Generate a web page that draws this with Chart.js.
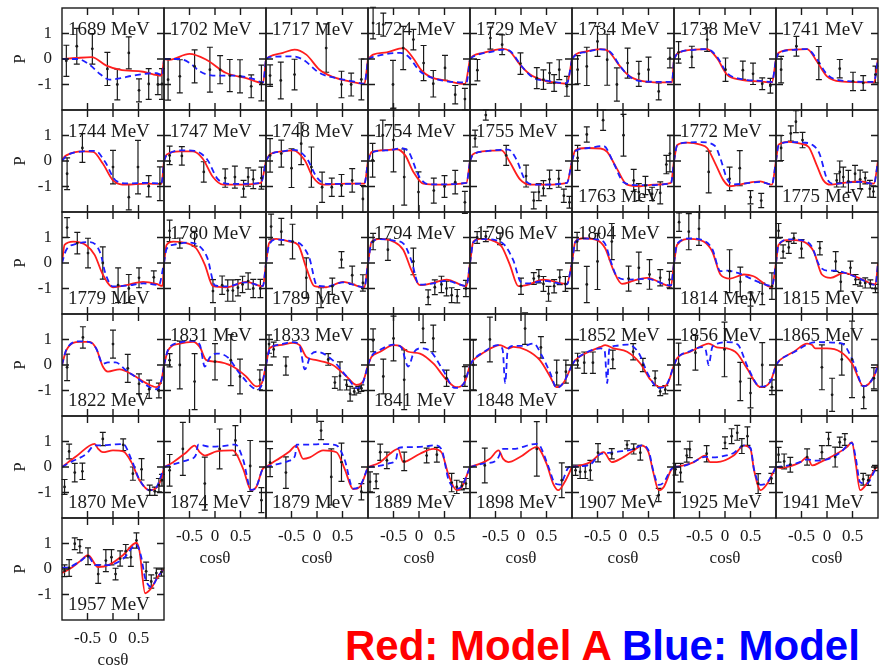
<!DOCTYPE html>
<html lang="en">
<head>
<meta charset="UTF-8">
<title>Polarization P vs cos theta</title>
<script src="https://cdn.jsdelivr.net/npm/chart.js"></script>
<style>
  html, body { margin: 0; padding: 0; background: #fff; }
  body { position: relative; width: 883px; height: 669px; overflow: hidden; }
  canvas { position: absolute; }
  .legend {
    position: absolute; left: 345px; top: 625px;
    font: bold 42px "Liberation Sans", Arial, sans-serif;
    line-height: 42px; white-space: nowrap;
  }
</style>
</head>
<body>
<div id="grid"></div>
<div class="legend"><span style="color:#ff0000">Red: Model A</span> <span style="color:#0000ff">Blue: Model</span></div>

<script>
// beam energies, one panel each (8 per row)
const energies = [
  1689, 1702, 1717, 1724, 1729, 1734, 1738, 1741,
  1744, 1747, 1748, 1754, 1755, 1763, 1772, 1775,
  1779, 1780, 1789, 1794, 1796, 1804, 1814, 1815,
  1822, 1831, 1833, 1841, 1848, 1852, 1856, 1865,
  1870, 1874, 1879, 1889, 1898, 1907, 1925, 1941,
  1957
];

// energy label at the bottom of the panel instead of the top
const labelAtBottom = [
  0, 0, 0, 0, 0, 0, 0, 0,
  0, 0, 0, 0, 0, 1, 0, 1,
  1, 0, 1, 0, 0, 0, 1, 1,
  1, 0, 0, 1, 1, 0, 0, 0,
  1, 1, 1, 1, 1, 1, 1, 1,
  1
];

const xTicks = [-0.5, 0, 0.5];
const xTickLabels = ['-0.5', '0', '0.5'];
const yTicks = [-1, 0, 1];
const yTickLabels = ['-1', '0', '1'];

// model A curves (red), [cos, P]
const modelA = [
  [[-1,0],[-0.72,0.04],[-0.42,0.07],[-0.13,-0.26],[0.13,-0.42],[0.59,-0.5],[0.95,-0.65],[1,0]],
  [[-1,0],[-0.9,-0.03],[-0.5,0.2],[-0.17,-0.03],[0.22,-0.55],[0.61,-0.75],[0.94,-0.94],[1,0]],
  [[-1,0],[-0.93,0.1],[-0.67,0.24],[-0.44,0.37],[-0.21,0.17],[0.05,-0.42],[0.31,-0.7],[0.64,-0.88],[0.93,-0.97],[1,0]],
  [[-1,0],[-0.9,0.17],[-0.63,0.26],[-0.31,0.43],[-0.12,0.05],[0.05,-0.45],[0.22,-0.7],[0.54,-0.85],[0.9,-0.98],[1,0]],
  [[-1,0],[-0.935,0.13],[-0.74,0.24],[-0.54,0.34],[-0.35,0.4],[-0.22,0.3],[-0.02,-0.22],[0.18,-0.61],[0.44,-0.84],[0.7,-0.94],[0.9,-0.97],[1,0]],
  [[-1,0],[-0.935,0.17],[-0.71,0.3],[-0.44,0.39],[-0.28,0.3],[-0.085,-0.22],[0.11,-0.65],[0.34,-0.85],[0.73,-0.92],[0.96,-0.92],[1,0]],
  [[-1,0],[-0.94,0.21],[-0.61,0.37],[-0.35,0.39],[-0.16,0.04],[0.04,-0.61],[0.3,-0.81],[0.69,-0.88],[0.92,-0.92],[1,0]],
  [[-1,0],[-0.95,0.24],[-0.65,0.37],[-0.39,0.39],[-0.2,-0.09],[0,-0.68],[0.26,-0.88],[0.92,-0.92],[1,0]],

  [[-1,0],[-0.97,0.12],[-0.915,0.22],[-0.59,0.38],[-0.39,0.36],[-0.2,-0.1],[0,-0.76],[0.26,-0.93],[0.65,-0.89],[0.95,-0.9],[1,0]],
  [[-1,0],[-0.95,0.25],[-0.69,0.38],[-0.43,0.38],[-0.24,0.09],[-0.04,-0.63],[0.16,-0.93],[0.48,-0.93],[0.9,-0.86],[1,0]],
  [[-1,0],[-0.93,0.25],[-0.67,0.38],[-0.47,0.42],[-0.24,0.03],[-0.08,-0.63],[0.12,-0.93],[0.58,-0.89],[0.93,-0.89],[1,0]],
  [[-1,0],[-0.93,0.35],[-0.7,0.42],[-0.44,0.46],[-0.27,0.22],[-0.11,-0.43],[0.085,-0.89],[0.41,-0.93],[0.93,-0.86],[1,0]],
  [[-1,0],[-0.95,0.25],[-0.8,0.36],[-0.54,0.41],[-0.38,0.42],[-0.22,-0.04],[-0.02,-0.72],[0.18,-0.93],[0.5,-0.93],[0.9,-0.86],[1,0]],
  [[-1,0],[-0.935,0.42],[-0.71,0.51],[-0.44,0.49],[-0.31,0.36],[-0.12,-0.3],[0.08,-0.93],[0.34,-0.99],[0.6,-0.93],[0.94,-0.86],[1,0]],
  [[-1,0],[-0.94,0.62],[-0.75,0.72],[-0.48,0.64],[-0.35,0.51],[-0.19,-0.1],[-0.03,-0.76],[0.1,-0.99],[0.37,-0.89],[0.69,-0.8],[0.92,-0.93],[1,0]],
  [[-1,0],[-0.95,0.64],[-0.75,0.75],[-0.52,0.68],[-0.36,0.55],[-0.2,-0.17],[-0.07,-0.76],[0.07,-0.93],[0.33,-0.86],[0.65,-0.8],[0.92,-0.89],[1,0]],

  [[-1,0],[-0.95,0.71],[-0.78,0.84],[-0.52,0.69],[-0.36,0.32],[-0.2,-0.45],[0,-0.95],[0.26,-0.87],[0.59,-0.74],[0.85,-0.82],[0.97,-0.9],[1,0]],
  [[-1,0],[-0.95,0.71],[-0.82,0.84],[-0.56,0.78],[-0.37,0.58],[-0.2,-0.06],[-0.04,-0.91],[0.22,-0.95],[0.61,-0.74],[0.94,-0.91],[1,0]],
  [[-1,0],[-0.94,0.78],[-0.8,0.95],[-0.54,0.84],[-0.37,0.71],[-0.21,-0.19],[-0.05,-0.91],[0.18,-0.95],[0.51,-0.74],[0.93,-0.95],[1,0]],
  [[-1,0],[-0.93,0.84],[-0.76,0.95],[-0.5,0.84],[-0.31,0.52],[-0.14,-0.32],[0.02,-0.87],[0.28,-0.78],[0.54,-0.65],[0.93,-0.91],[1,0]],
  [[-1,0],[-0.935,0.84],[-0.8,0.95],[-0.54,0.87],[-0.38,0.65],[-0.22,-0.06],[-0.05,-0.91],[0.11,-0.87],[0.44,-0.65],[0.9,-0.82],[1,0]],
  [[-1,0],[-0.935,0.84],[-0.77,0.97],[-0.51,0.9],[-0.35,0.58],[-0.18,-0.32],[-0.02,-0.82],[0.21,-0.69],[0.47,-0.58],[0.94,-0.91],[1,0]],
  [[-1,0],[-0.94,0.71],[-0.68,0.95],[-0.42,0.84],[-0.25,0.45],[-0.09,-0.45],[0.1,-0.61],[0.37,-0.45],[0.56,-0.52],[0.92,-0.95],[1,0]],
  [[-1,0],[-0.95,0.71],[-0.72,0.91],[-0.46,0.84],[-0.26,0.45],[-0.1,-0.45],[0.07,-0.58],[0.33,-0.39],[0.65,-0.61],[0.95,-0.84],[1,0]],

  [[-1,0],[-0.915,0.58],[-0.65,0.91],[-0.46,0.91],[-0.33,0.65],[-0.2,-0.06],[-0.1,-0.26],[0.13,-0.17],[0.39,-0.39],[0.65,-0.71],[0.85,-0.87],[0.95,-0.6],[1,0]],
  [[-1,0],[-0.92,0.58],[-0.69,0.84],[-0.43,0.91],[-0.3,0.71],[-0.17,0.19],[0.03,0.13],[0.35,-0.06],[0.61,-0.45],[0.81,-0.84],[0.92,-0.7],[1,0]],
  [[-1,0],[-0.93,0.65],[-0.73,0.78],[-0.47,0.87],[-0.34,0.78],[-0.21,0.32],[-0.01,0.19],[0.31,0],[0.58,-0.45],[0.77,-0.78],[0.9,-0.65],[1,0]],
  [[-1,0],[-0.93,0.32],[-0.76,0.52],[-0.5,0.78],[-0.37,0.74],[-0.21,0.52],[0.02,0.45],[0.28,0.06],[0.54,-0.58],[0.73,-0.87],[0.9,-0.65],[1,0]],
  [[-1,0],[-0.935,0.19],[-0.74,0.48],[-0.41,0.78],[-0.25,0.65],[-0.15,0.71],[0.11,0.58],[0.37,0.19],[0.57,-0.45],[0.7,-0.87],[0.83,-0.71],[1,0]],
  [[-1,0],[-0.935,0.19],[-0.71,0.48],[-0.44,0.71],[-0.35,0.78],[-0.18,0.65],[0.08,0.52],[0.34,0.06],[0.54,-0.58],[0.73,-0.87],[0.86,-0.78],[1,0]],
  [[-1,0],[-0.94,0.26],[-0.68,0.52],[-0.42,0.78],[-0.32,0.84],[-0.16,0.69],[0.04,0.65],[0.24,0.45],[0.43,-0.13],[0.69,-0.87],[0.89,-0.65],[1,0]],
  [[-1,0],[-0.92,0.2],[-0.65,0.52],[-0.39,0.84],[-0.29,0.78],[-0.23,0.65],[0,0.65],[0.26,0.52],[0.49,0.06],[0.72,-0.84],[0.92,-0.45],[1,0]],

  [[-1,0],[-0.72,0.42],[-0.36,0.91],[-0.29,0.71],[-0.2,0.58],[0,0.65],[0.2,0.61],[0.36,0.19],[0.52,-0.52],[0.72,-0.91],[0.85,-0.82],[0.95,-0.45],[1,0]],
  [[-1,0],[-0.82,0.19],[-0.56,0.58],[-0.4,0.84],[-0.3,0.58],[-0.2,0.45],[0.03,0.61],[0.35,0.65],[0.55,-0.06],[0.71,-0.91],[0.81,-0.78],[0.94,-0.06],[1,0]],
  [[-1,0],[-0.8,0.26],[-0.54,0.61],[-0.41,0.84],[-0.27,0.32],[-0.14,0.38],[0.12,0.65],[0.38,0.58],[0.54,-0.06],[0.71,-0.87],[0.84,-0.78],[1,0]],
  [[-1,0],[-0.76,0.19],[-0.57,0.52],[-0.41,0.71],[-0.31,0.19],[-0.21,0.26],[0.02,0.52],[0.28,0.71],[0.44,0.58],[0.58,-0.32],[0.74,-0.91],[0.84,-0.78],[1,0]],
  [[-1,0],[-0.8,0.13],[-0.61,0.32],[-0.44,0.65],[-0.35,0.32],[-0.25,0.19],[-0.02,0.39],[0.31,0.78],[0.5,0.13],[0.63,-0.65],[0.73,-0.91],[0.86,-0.58],[1,0]],
  [[-1,0],[-0.84,0.06],[-0.64,0.19],[-0.38,0.58],[-0.22,0.19],[-0.05,0.32],[0.21,0.65],[0.37,0.84],[0.5,0.58],[0.6,-0.26],[0.7,-0.91],[0.8,-0.78],[0.94,-0.13],[1,0]],
  [[-1,0],[-0.81,0.06],[-0.61,0.19],[-0.39,0.45],[-0.29,0.19],[-0.16,0.19],[0.17,0.45],[0.37,0.84],[0.5,0.71],[0.57,-0.13],[0.7,-0.91],[0.83,-0.65],[0.95,-0.19],[1,0]],
  [[-1,0],[-0.9,-0.04],[-0.78,0],[-0.52,0.19],[-0.39,0.39],[-0.29,0.06],[-0.13,0.19],[0.13,0.45],[0.39,0.78],[0.49,0.97],[0.56,0.19],[0.65,-0.91],[0.78,-0.65],[0.95,-0.06],[1,0]],

  [[-1,-0.15],[-0.85,0],[-0.65,0.3],[-0.49,0.54],[-0.29,0.07],[-0.07,0.17],[0.2,0.55],[0.46,1.03],[0.52,0.7],[0.63,-0.95],[0.75,-0.75],[0.88,-0.3],[1,0]]
];

// second model curves (blue, dashed), [cos, P]
const modelB = [
  [[-1,0],[-0.7,0],[-0.46,-0.22],[-0.25,-0.6],[-0.07,-0.81],[0.15,-0.75],[0.4,-0.65],[0.85,-0.55],[0.97,-0.65],[1,0]],
  [[-1,0],[-0.69,0],[-0.5,-0.15],[-0.3,-0.48],[-0.04,-0.65],[0.35,-0.65],[0.75,-0.78],[0.94,-0.92],[1,0]],
  [[-1,0],[-0.93,0.08],[-0.47,0.1],[-0.27,-0.03],[0.05,-0.55],[0.38,-0.75],[0.71,-0.88],[0.93,-0.97],[1,0]],
  [[-1,0],[-0.9,0.08],[-0.37,0.24],[-0.21,0.1],[0.02,-0.48],[0.28,-0.75],[0.93,-0.92],[1,0]],
  [[-1,0],[-0.935,0.1],[-0.54,0.3],[-0.35,0.37],[-0.22,0.32],[0.02,-0.3],[0.25,-0.75],[0.5,-0.85],[0.9,-0.95],[1,0]],
  [[-1,0],[-0.935,0.15],[-0.71,0.28],[-0.44,0.38],[-0.25,0.28],[-0.05,-0.3],[0.15,-0.72],[0.4,-0.88],[0.96,-0.9],[1,0]],
  [[-1,0],[-0.94,0.2],[-0.61,0.36],[-0.35,0.39],[-0.16,0.1],[0.04,-0.55],[0.3,-0.78],[0.69,-0.86],[0.92,-0.9],[1,0]],
  [[-1,0],[-0.95,0.22],[-0.65,0.36],[-0.39,0.39],[-0.2,0],[0,-0.6],[0.26,-0.84],[0.92,-0.9],[1,0]],

  [[-1,0],[-0.915,0.2],[-0.59,0.38],[-0.35,0.4],[-0.15,-0.05],[0.05,-0.76],[0.3,-0.88],[0.65,-0.86],[0.95,-0.88],[1,0]],
  [[-1,0],[-0.95,0.22],[-0.6,0.42],[-0.4,0.4],[-0.15,0.05],[0.05,-0.7],[0.3,-0.9],[0.9,-0.86],[1,0]],
  [[-1,0],[-0.93,0.22],[-0.67,0.38],[-0.45,0.44],[-0.2,0.1],[0,-0.65],[0.2,-0.9],[0.93,-0.88],[1,0]],
  [[-1,0],[-0.93,0.33],[-0.6,0.42],[-0.35,0.5],[-0.2,0.35],[0,-0.6],[0.2,-0.92],[0.93,-0.86],[1,0]],
  [[-1,0],[-0.95,0.22],[-0.7,0.38],[-0.4,0.44],[-0.25,0.45],[-0.1,0.1],[0.1,-0.8],[0.3,-0.93],[0.9,-0.86],[1,0]],
  [[-1,0],[-0.935,0.38],[-0.71,0.5],[-0.38,0.59],[-0.18,-0.1],[0.01,-0.83],[0.3,-0.95],[0.94,-0.88],[1,0]],
  [[-1,0],[-0.94,0.6],[-0.75,0.72],[-0.48,0.74],[-0.2,0.6],[-0.09,0.1],[0.04,-0.7],[0.15,-0.92],[0.4,-0.88],[0.69,-0.82],[0.92,-0.92],[1,0]],
  [[-1,0],[-0.95,0.6],[-0.75,0.74],[-0.45,0.72],[-0.3,0.65],[-0.15,0.3],[0,-0.7],[0.15,-0.9],[0.33,-0.86],[0.65,-0.82],[0.92,-0.9],[1,0]],

  [[-1,0],[-0.92,0.5],[-0.72,0.75],[-0.45,0.82],[-0.25,0.4],[-0.15,-0.4],[0,-0.92],[0.3,-0.88],[0.6,-0.8],[0.9,-0.86],[1,0]],
  [[-1,0],[-0.95,0.55],[-0.8,0.72],[-0.5,0.8],[-0.3,0.65],[-0.15,0.2],[0,-0.88],[0.22,-0.92],[0.61,-0.76],[0.94,-0.9],[1,0]],
  [[-1,0],[-0.94,0.7],[-0.8,0.92],[-0.5,0.85],[-0.3,0.7],[-0.15,0.2],[0,-0.88],[0.2,-0.92],[0.51,-0.76],[0.93,-0.95],[1,0]],
  [[-1,0],[-0.93,0.8],[-0.76,0.94],[-0.5,0.88],[-0.3,0.75],[-0.15,0.1],[0,-0.85],[0.28,-0.8],[0.54,-0.7],[0.93,-0.9],[1,0]],
  [[-1,0],[-0.935,0.8],[-0.8,0.94],[-0.5,0.9],[-0.32,0.7],[-0.15,0.1],[0,-0.75],[0.15,-0.8],[0.44,-0.7],[0.9,-0.84],[1,0]],
  [[-1,0],[-0.935,0.82],[-0.77,0.96],[-0.5,0.92],[-0.35,0.75],[-0.25,0.13],[-0.12,-0.52],[0.08,-0.65],[0.47,-0.62],[0.94,-0.88],[1,0]],
  [[-1,0],[-0.94,0.75],[-0.68,0.96],[-0.42,0.88],[-0.25,0.55],[-0.09,-0.32],[0.05,-0.3],[0.25,-0.39],[0.7,-0.78],[0.92,-0.9],[1,0]],
  [[-1,0],[-0.95,0.72],[-0.72,0.93],[-0.46,0.88],[-0.3,0.65],[-0.15,-0.1],[0,-0.3],[0.15,-0.3],[0.4,-0.42],[0.65,-0.62],[0.95,-0.86],[1,0]],

  [[-1,0],[-0.915,0.6],[-0.65,0.93],[-0.46,0.9],[-0.33,0.65],[-0.2,0.05],[-0.1,0.1],[0.05,0.1],[0.25,-0.2],[0.5,-0.55],[0.7,-0.85],[0.85,-0.95],[0.95,-0.6],[1,0]],
  [[-1,0],[-0.92,0.6],[-0.69,0.88],[-0.45,0.95],[-0.3,0.8],[-0.2,-0.06],[-0.1,0.3],[0.03,0.45],[0.25,0.3],[0.48,-0.32],[0.75,-0.9],[0.85,-0.95],[0.93,-0.7],[1,0]],
  [[-1,0],[-0.93,0.6],[-0.73,0.8],[-0.47,0.9],[-0.34,0.75],[-0.24,-0.17],[-0.12,0.4],[0,0.52],[0.3,0.2],[0.58,-0.45],[0.8,-0.92],[0.9,-0.7],[1,0]],
  [[-1,0],[-0.93,0.35],[-0.76,0.6],[-0.5,0.8],[-0.35,0.7],[-0.21,-0.06],[-0.1,0.5],[0.02,0.65],[0.2,0.58],[0.47,-0.2],[0.7,-0.9],[0.9,-0.65],[1,0]],
  [[-1,0],[-0.935,0.2],[-0.74,0.5],[-0.45,0.78],[-0.36,0.6],[-0.31,-0.71],[-0.26,0.6],[-0.15,0.75],[0.05,0.75],[0.25,0.84],[0.4,0.4],[0.57,-0.3],[0.7,-0.9],[0.83,-0.7],[1,0]],
  [[-1,0],[-0.935,0.19],[-0.71,0.5],[-0.44,0.65],[-0.36,0.55],[-0.31,-0.71],[-0.27,0.6],[-0.15,0.75],[0.08,0.8],[0.3,0.5],[0.5,-0.4],[0.7,-0.9],[0.86,-0.75],[1,0]],
  [[-1,0],[-0.94,0.26],[-0.68,0.55],[-0.45,0.7],[-0.38,0.6],[-0.32,0],[-0.25,0.7],[-0.15,0.84],[0.04,0.9],[0.25,0.8],[0.45,-0.1],[0.69,-0.85],[0.89,-0.65],[1,0]],
  [[-1,0],[-0.92,0.2],[-0.65,0.5],[-0.39,0.8],[-0.29,0.88],[-0.15,0.9],[0.1,0.88],[0.3,0.84],[0.5,0.2],[0.72,-0.84],[0.92,-0.45],[1,0]],

  [[-1,0],[-0.82,0.2],[-0.52,0.52],[-0.36,0.85],[-0.2,0.85],[0,0.88],[0.2,0.9],[0.36,0.3],[0.52,-0.5],[0.72,-0.91],[0.85,-0.8],[1,0]],
  [[-1,0],[-0.82,0.1],[-0.5,0.3],[-0.38,0.45],[-0.33,0.88],[-0.1,0.8],[0.15,0.82],[0.4,0.88],[0.55,0.3],[0.71,-0.9],[0.81,-0.78],[0.94,-0.06],[1,0]],
  [[-1,0],[-0.8,0.1],[-0.54,0.25],[-0.43,0.45],[-0.4,0.88],[-0.15,0.88],[0.12,0.9],[0.38,0.85],[0.54,0.3],[0.71,-0.85],[0.84,-0.75],[1,0]],
  [[-1,0],[-0.76,0.05],[-0.57,0.15],[-0.45,0.3],[-0.4,0.75],[-0.2,0.78],[0.1,0.8],[0.3,0.85],[0.44,0.7],[0.58,-0.5],[0.74,-0.85],[0.84,-0.75],[1,0]],
  [[-1,0],[-0.74,0.13],[-0.48,0.26],[-0.35,0.71],[-0.16,0.71],[0.31,0.91],[0.37,0.84],[0.54,0],[0.67,-0.65],[0.76,-0.69],[0.95,0],[1,0]],
  [[-1,0],[-0.84,0.03],[-0.64,0.1],[-0.45,0.5],[-0.3,0.55],[-0.1,0.6],[0.2,0.7],[0.37,0.85],[0.5,0.65],[0.6,-0.2],[0.7,-0.7],[0.8,-0.6],[0.94,-0.1],[1,0]],
  [[-1,0],[-0.81,0.04],[-0.61,0.2],[-0.39,0.4],[-0.25,0.38],[-0.1,0.4],[0.17,0.55],[0.37,0.85],[0.5,0.75],[0.57,-0.1],[0.7,-0.7],[0.83,-0.6],[0.95,-0.2],[1,0]],
  [[-1,0],[-0.78,0.05],[-0.52,0.2],[-0.39,0.3],[-0.25,0.25],[0,0.3],[0.25,0.55],[0.49,0.95],[0.56,0.4],[0.65,-0.6],[0.78,-0.65],[0.95,-0.1],[1,0]],

  [[-1,0.05],[-0.85,0.08],[-0.65,0.3],[-0.49,0.5],[-0.35,0.15],[-0.1,0.15],[0.2,0.4],[0.46,0.95],[0.55,0.5],[0.63,-0.35],[0.75,-0.7],[0.88,-0.3],[1,0]]
];

// measured points, [cos, P, error]
const measured = [
  [[-0.915,-0.07,0.61],[-0.71,0.5,0.7],[-0.405,0.4,0.6],[-0.11,-0.39,0.65],[0.085,-1.0,0.6],[0.31,0.24,0.63],[0.51,-1.23,0.45],[0.7,-0.98,0.6],[0.88,-1.0,0.4],[0.96,-0.98,0.6]],
  [[-0.92,-0.81,0.8],[-0.69,-0.68,0.65],[-0.4,-0.29,0.65],[-0.1,-0.42,0.88],[0.1,-0.42,0.55],[0.29,-0.65,0.63],[0.49,-0.68,0.65],[0.71,-1.07,0.45],[0.91,-0.94,0.7]],
  [[-0.92,-0.65,0.42],[-0.71,-0.84,0.72],[-0.44,-0.61,0.6],[0.18,0.43,0.95],[0.48,-1.0,0.52],[0.67,-1.0,0.45],[0.87,-0.8,0.8]],
  [[-0.9,1.41,0.62],[-0.7,1.35,0.45],[-0.51,-1.0,0.95],[-0.31,0.43,0.85],[-0.11,0.76,0.4],[0.09,-0.16,0.69],[0.28,-0.97,0.52],[0.51,-0.35,0.49],[0.71,-1.4,0.36],[0.9,-1.57,0.42]],
  [[-0.855,-0.44,0.42],[-0.6,0.82,0.43],[-0.37,0.56,0.39],[-0.01,-0.18,0.42],[0.31,-0.75,0.41],[0.44,-0.81,0.38],[0.56,-0.55,0.4],[0.65,-0.94,0.33],[0.75,-0.42,0.39],[0.9,-1.07,0.39]],
  [[-0.89,-0.42,0.55],[-0.71,-0.29,0.75],[-0.5,0.69,0.59],[-0.31,-0.03,1.0],[-0.12,-1.0,0.65],[0.09,-0.16,0.59],[0.31,-0.58,0.49],[0.5,-0.42,0.49],[0.7,-1.27,0.33],[0.92,0.04,0.39]],
  [[-0.91,0.26,0.42],[-0.65,0.08,0.42],[-0.35,0.76,0.46],[0.01,-0.42,0.46],[0.35,-0.44,0.36],[0.55,-0.58,0.42],[0.73,-0.97,0.23],[0.89,-1.05,0.29]],
  [[-0.9,-0.42,0.52],[-0.6,0.5,0.39],[-0.16,-0.16,0.65],[0.25,-0.38,0.36],[0.51,-0.88,0.36],[0.71,-0.94,0.29],[0.95,-0.61,0.33]],

  [[-0.9,-0.5,0.62],[-0.6,0.51,0.56],[0,-0.24,0.66],[0.31,-1.42,0.5],[0.49,-0.24,1.05],[0.7,-0.99,0.42],[0.92,-0.89,0.66]],
  [[-0.89,0.22,0.36],[-0.65,0.2,0.36],[-0.22,-0.43,0.4],[0.2,-0.67,0.36],[0.39,-0.63,0.43],[0.56,-1.09,0.33],[0.65,-0.63,0.36],[0.75,-0.72,0.36],[0.91,-0.67,0.43]],
  [[-0.92,0.22,0.66],[-0.7,0.29,0.53],[-0.5,-0.28,0.76],[-0.31,0.68,0.82],[-0.11,-0.24,0.79],[0.1,-1.03,0.59],[0.29,-1.03,0.36],[0.48,-0.96,0.43],[0.69,-0.76,0.46],[0.9,-1.49,0.53]],
  [[-0.91,0.03,0.66],[-0.71,1.01,0.59],[-0.5,0.82,1.25],[-0.29,-0.63,1.1],[-0.01,-1.22,0.79],[0.29,-1.16,0.49],[0.5,-1.0,0.43],[0.71,-0.83,0.46],[0.9,-1.62,0.43]],
  [[-0.9,0.88,0.33],[-0.69,1.8,0.2],[-0.29,0.22,0.39],[0.1,-0.59,0.43],[0.25,-1.55,0.33],[0.35,-1.22,0.33],[0.44,-1.07,0.3],[0.56,-0.72,0.36],[0.74,-0.7,0.33],[0.84,-1.36,0.26],[0.95,-1.62,0.23]],
  [[-0.89,0.12,0.49],[-0.71,1.04,0.3],[-0.39,1.6,0.4],[0.01,1.01,0.82],[0.21,-0.76,0.43],[0.31,-1.22,0.33],[0.44,-0.96,0.36],[0.57,-1.29,0.26],[0.73,-1.25,0.43],[0.85,-0.14,0.36],[0.92,0.29,0.72]],
  [[-0.32,-0.43,0.82],[0.09,-0.7,0.46],[0.29,-0.28,0.69],[0.5,-1.42,0.26],[0.71,-1.55,0.28]],
  [[-0.9,0.51,0.49],[-0.71,1.08,0.3],[-0.61,1.54,0.43],[-0.48,0.82,0.3],[0.19,-0.76,0.26],[0.25,-0.43,0.43],[0.32,-0.63,0.39],[0.42,-0.8,0.43],[0.55,-0.5,0.33],[0.65,-0.72,0.36],[0.75,-0.67,0.23],[0.84,-1.09,0.33],[0.91,-1.2,0.23]],

  [[-0.9,1.39,0.39],[-0.7,0.78,0.42],[-0.49,0.39,0.58],[-0.2,0,0.63],[0.1,-0.87,0.68],[0.31,-1.0,0.55],[0.51,-0.58,0.39],[0.8,-0.56,0.25]],
  [[-0.89,1.26,0.42],[-0.69,0.78,0.2],[-0.4,0.95,0.29],[-0.04,-1.1,0.45],[0.14,-0.87,0.36],[0.25,-1.08,0.42],[0.35,-1.08,0.42],[0.45,-0.97,0.32],[0.54,-0.84,0.32],[0.65,-0.71,0.32],[0.75,-1.0,0.36],[0.89,-1.0,0.36]],
  [[-0.9,1.43,0.49],[-0.7,1.23,0.52],[-0.48,0.84,0.68],[-0.21,-0.58,0.78],[0.08,-1.36,0.39],[0.3,-0.91,0.32],[0.48,0.13,0.32],[0.69,-0.48,0.36],[0.9,-0.78,0.32]],
  [[-0.9,0.84,0.32],[-0.61,0.52,0.42],[-0.11,0.06,0.52],[0.18,-1.34,0.29],[0.31,-0.95,0.29],[0.44,-0.84,0.32],[0.54,-1.0,0.29],[0.64,-1.26,0.29],[0.75,-1.3,0.26],[0.92,-1.0,0.32]],
  [[-0.86,1.0,0.23],[-0.69,1.04,0.2],[-0.41,0.95,0.23],[0,-0.91,0.32],[0.25,-0.61,0.23],[0.35,-0.52,0.26],[0.44,-0.82,0.29],[0.54,-1.21,0.29],[0.65,-0.91,0.26],[0.76,-0.56,0.29],[0.87,-0.82,0.29]],
  [[-0.9,0.84,0.36],[-0.71,-0.84,0.71],[-0.5,0.06,1.1],[-0.22,0.84,0.71],[0.11,-0.61,0.49],[0.31,-0.19,0.62],[0.52,-0.45,0.58],[0.73,-0.58,0.32],[0.91,-0.65,0.32]],
  [[-0.9,1.6,0.36],[-0.71,1.23,0.71],[-0.51,1.34,0.65],[0.09,-0.32,0.84],[0.3,-0.74,0.58],[0.5,-1.43,0.26],[0.73,-1.21,0.42],[0.92,-0.91,0.52]],
  [[-0.95,1.26,0.29],[-0.86,0.45,0.26],[-0.75,0.61,0.23],[-0.65,0.97,0.2],[-0.5,0.56,0.36],[-0.14,0.58,0.26],[0.17,0.06,0.39],[0.27,-0.74,0.36],[0.46,-0.19,0.26],[0.56,-0.65,0.2],[0.65,-0.78,0.13],[0.75,-0.78,0.2],[0.85,-0.82,0.16],[0.95,-1.0,0.16]],

  [[-0.9,-0.09,0.52],[-0.59,1.08,0.42],[0,0.82,0.55],[0.29,-0.13,0.55],[0.51,-0.74,0.39],[0.71,-0.95,0.36],[0.9,-1.0,0.29]],
  [[-0.89,0.19,0.26],[-0.69,0,0.94],[-0.4,-0.65,1.1],[0,0.13,0.71],[0.31,0.19,1.0],[0.49,-0.45,0.68],[0.88,-0.58,0.39]],
  [[-0.94,0.82,0.36],[-0.85,0.61,0.29],[-0.61,-0.04,0.36],[0.22,0.22,0.23],[0.35,-0.69,0.23],[0.45,-0.43,0.55],[0.58,-0.78,0.2],[0.65,-1.13,0.29],[0.73,-1.04,0.13],[0.81,-0.97,0.13],[0.87,-0.91,0.13]],
  [[-0.9,0.97,0.45],[-0.7,-0.45,0.68],[-0.5,1.04,0.88],[-0.29,-0.58,1.17],[0.08,1.43,0.55],[0.28,1.04,0.52],[0.54,-0.52,0.32],[0.9,-0.45,0.39]],
  [[-0.935,0,0.97],[-0.61,1.0,0.88],[0.08,1.43,0.62],[0.39,0.69,0.42],[0.7,-0.3,0.49],[0.88,-0.26,0.45]],
  [[-0.89,0.17,0.29],[-0.76,0.09,0.42],[-0.59,0.09,0.42],[-0.2,0.22,0.36],[0.2,0.52,0.32],[0.39,0,0.26],[0.63,-0.52,0.29],[0.73,-1.04,0.16],[0.83,-0.97,0.16]],
  [[-0.91,0.04,0.82],[-0.58,0.48,0.68],[-0.01,0.61,1.07],[0.3,-0.65,0.75],[0.5,-1.1,0.58],[0.73,0,0.88],[0.92,-0.87,0.29]],
  [[-0.1,-0.09,0.88],[0.1,-1.17,0.65],[0.29,0.22,0.62],[0.49,0.22,1.5],[0.72,-1.26,0.45],[0.92,-0.52,0.42]],

  [[-0.95,-0.78,0.29],[-0.86,0.61,0.29],[-0.75,-0.22,0.36],[-0.6,-0.17,0.32],[-0.2,1.1,0.26],[0.2,0.87,0.23],[0.39,-0.26,0.26],[0.56,-0.09,0.42],[0.72,-0.91,0.2],[0.82,-0.95,0.16],[0.9,-0.71,0.26],[0.96,-0.52,0.23]],
  [[-0.89,-0.13,0.62],[-0.63,0.71,1.04],[-0.2,-0.65,1.04],[0.09,0.71,0.78],[0.4,1.04,0.58],[0.69,0.04,1.0],[0.91,-1.3,0.49]],
  [[-0.92,0.17,0.55],[-0.61,-0.22,0.62],[0.08,1.43,0.36],[0.28,-0.39,1.1],[0.48,0.19,0.75],[0.87,-0.97,0.32]],
  [[-0.96,-0.58,0.39],[-0.84,-0.56,0.29],[-0.76,0.58,0.32],[-0.63,0.26,0.32],[-0.29,0.22,0.36],[0.15,0.45,0.29],[0.35,0.48,0.29],[0.64,-0.61,0.36],[0.74,-0.78,0.26],[0.84,-0.74,0.16],[0.92,-0.65,0.2]],
  [[-0.71,0.06,0.68],[0.31,0.71,1.07],[0.8,-0.52,0.68]],
  [[-0.93,-0.13,0.2],[-0.84,-0.19,0.26],[-0.74,-0.19,0.26],[-0.64,-0.13,0.39],[-0.49,0.56,0.36],[-0.22,0.52,0.2],[0.08,0.87,0.16],[0.21,0.71,0.2],[0.34,0.56,0.29],[0.7,-1.1,0.26]],
  [[-0.97,-0.09,0.23],[-0.87,-0.22,0.36],[-0.75,0.45,0.26],[-0.69,0.69,0.32],[-0.36,0.52,0.32],[0,0.95,0.23],[0.13,1.21,0.29],[0.24,1.34,0.29],[0.33,0.82,0.29],[0.44,1.21,0.36],[0.65,-0.65,0.39],[0.91,-0.45,0.2]],
  [[-0.95,0.48,0.29],[-0.84,0.22,0.29],[-0.72,0.09,0.29],[-0.39,0.39,0.32],[-0.1,0.58,0.26],[0.03,1.1,0.26],[0.16,0.39,0.39],[0.25,0.97,0.2],[0.35,1.08,0.23],[0.71,-0.48,0.23],[0.81,-0.52,0.2],[0.94,-0.04,0.1]],

  [[-0.95,-0.07,0.23],[-0.86,0.04,0.33],[-0.75,0.99,0.23],[-0.65,0.89,0.26],[-0.49,0.5,0.33],[-0.29,-0.2,0.36],[-0.14,0.33,0.43],[-0.03,0.46,0.3],[0.05,-0.2,0.23],[0.14,0.41,0.3],[0.25,0.7,0.26],[0.35,0.46,0.36],[0.46,1.12,0.3],[0.65,-0.09,0.36],[0.75,-0.49,0.26],[0.85,-0.16,0.2],[0.95,-0.12,0.16]]
];

// grid geometry
const COLS = 8;
const SIZE = 102;       // panel width = height in px
const X0 = 62, Y0 = 8;  // top-left corner of the first panel
const PAD = 10;
const TICK = 7;
const INK = '#1a1a1a';
const LABEL_FONT = '19px "Liberation Serif", "Times New Roman", serif';
const TICK_FONT = '17px "Liberation Serif", "Times New Roman", serif';

const toXY = pts => pts.map(([x, y]) => ({ x, y }));

// frame, inward ticks, error bars and text for one panel
function panelDecor(i, showX, showY) {
  return {
    id: 'panelDecor' + i,
    beforeDatasetsDraw(chart) {
      const { ctx, chartArea: a, scales: { x, y } } = chart;
      const lo = a.top - 2, hi = a.bottom + 2;
      ctx.save();
      ctx.strokeStyle = INK;
      ctx.lineWidth = 1.2;
      ctx.beginPath();
      for (const [cx, cy, err] of measured[i]) {
        const px = x.getPixelForValue(cx);
        let top = y.getPixelForValue(cy + err);
        let bot = y.getPixelForValue(cy - err);
        if (bot < lo || top > hi) continue;
        const capTop = top >= lo, capBot = bot <= hi;
        top = Math.max(top, lo);
        bot = Math.min(bot, hi);
        ctx.moveTo(px, top); ctx.lineTo(px, bot);
        if (capTop) { ctx.moveTo(px - 3, top); ctx.lineTo(px + 3, top); }
        if (capBot) { ctx.moveTo(px - 3, bot); ctx.lineTo(px + 3, bot); }
      }
      ctx.stroke();
      ctx.restore();
    },
    afterDraw(chart) {
      const { ctx, chartArea: a, scales: { x, y } } = chart;
      ctx.save();
      ctx.strokeStyle = INK;
      ctx.lineWidth = 1.4;
      ctx.strokeRect(a.left, a.top, a.right - a.left, a.bottom - a.top);
      ctx.beginPath();
      for (const t of xTicks) {
        const px = x.getPixelForValue(t);
        ctx.moveTo(px, a.bottom); ctx.lineTo(px, a.bottom - TICK);
        ctx.moveTo(px, a.top); ctx.lineTo(px, a.top + TICK);
      }
      for (const t of yTicks) {
        const py = y.getPixelForValue(t);
        ctx.moveTo(a.left, py); ctx.lineTo(a.left + TICK, py);
        ctx.moveTo(a.right, py); ctx.lineTo(a.right - TICK, py);
      }
      ctx.stroke();

      ctx.fillStyle = INK;
      ctx.font = LABEL_FONT;
      ctx.textAlign = 'left';
      ctx.textBaseline = 'alphabetic';
      const ly = labelAtBottom[i] ? a.bottom - 10.5 : a.top + 27;
      ctx.fillText(energies[i] + ' MeV', a.left + 6, ly);

      ctx.font = TICK_FONT;
      if (showY) {
        ctx.textAlign = 'right';
        ctx.textBaseline = 'middle';
        yTicks.forEach((t, k) => ctx.fillText(yTickLabels[k], a.left - 10, y.getPixelForValue(t)));
        ctx.save();
        ctx.translate(a.left - 41, (a.top + a.bottom) / 2);
        ctx.rotate(-Math.PI / 2);
        ctx.textAlign = 'center';
        ctx.fillText('P', 0, 0);
        ctx.restore();
      }
      if (showX) {
        ctx.textAlign = 'center';
        ctx.textBaseline = 'middle';
        xTicks.forEach((t, k) => ctx.fillText(xTickLabels[k], x.getPixelForValue(t), a.bottom + 19));
        ctx.fillText('cosθ', (a.left + a.right) / 2, a.bottom + 41);
      }
      ctx.restore();
    }
  };
}

const grid = document.getElementById('grid');

energies.forEach((e, i) => {
  const row = Math.floor(i / COLS), col = i % COLS;
  const showY = col === 0;
  const showX = (row === 4 && col > 0) || row === 5;
  const padL = showY ? 62 : PAD;
  const padB = showX ? 52 : PAD;
  const w = SIZE + padL + PAD, h = SIZE + PAD + padB;

  const canvas = document.createElement('canvas');
  canvas.width = w; canvas.height = h;
  canvas.style.width = w + 'px';
  canvas.style.height = h + 'px';
  canvas.style.left = (X0 + col * SIZE - padL) + 'px';
  canvas.style.top = (Y0 + row * SIZE - PAD) + 'px';
  grid.appendChild(canvas);

  new Chart(canvas.getContext('2d'), {
    type: 'scatter',
    data: {
      datasets: [
        {
          data: toXY(measured[i]),
          pointRadius: 1.4,
          pointBackgroundColor: INK,
          pointBorderWidth: 0
        },
        {
          data: toXY(modelB[i]),
          showLine: true,
          borderColor: 'rgb(30,30,255)',
          borderWidth: 1.8,
          borderDash: [6, 4],
          pointRadius: 0,
          cubicInterpolationMode: 'monotone'
        },
        {
          data: toXY(modelA[i]),
          showLine: true,
          borderColor: 'rgb(255,30,30)',
          borderWidth: 1.8,
          pointRadius: 0,
          cubicInterpolationMode: 'monotone'
        }
      ]
    },
    options: {
      responsive: false,
      animation: false,
      devicePixelRatio: 1,
      events: [],
      layout: { padding: { left: padL, right: PAD, top: PAD, bottom: padB } },
      plugins: { legend: { display: false }, tooltip: { enabled: false } },
      scales: {
        x: { type: 'linear', min: -1, max: 1, display: false },
        y: { type: 'linear', min: -2, max: 2, display: false }
      }
    },
    plugins: [panelDecor(i, showX, showY)]
  });
});
</script>
</body>
</html>
